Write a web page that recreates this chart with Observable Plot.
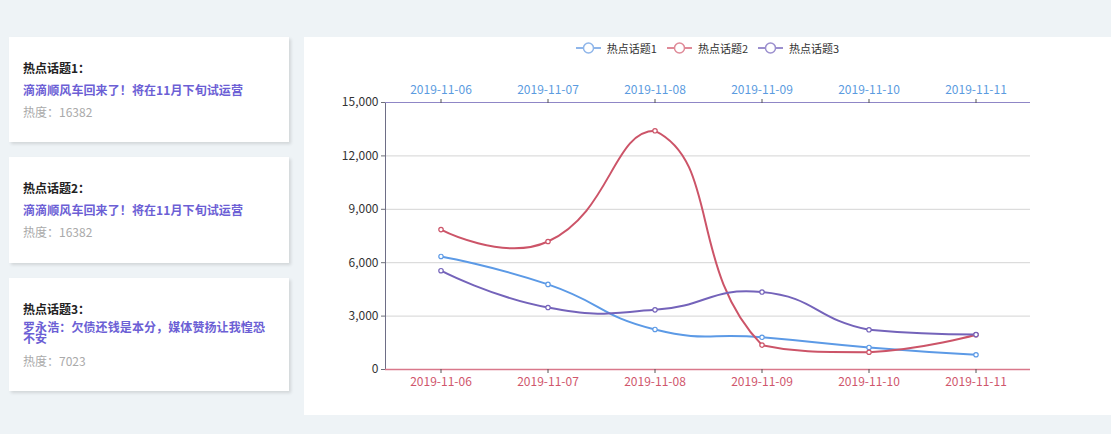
<!DOCTYPE html>
<html>
<head>
<meta charset="utf-8">
<script src="https://cdn.jsdelivr.net/npm/d3@7"></script>
<script src="https://cdn.jsdelivr.net/npm/@observablehq/plot@0.6"></script>
<style>
  html, body { margin: 0; padding: 0; }
  body { width: 1111px; height: 434px; background: #eef3f6; position: relative; overflow: hidden;
         font-family: "Noto Sans CJK SC", "Noto Sans", sans-serif; }
  .card { position: absolute; left: 9px; width: 280px; background: #fff;
          box-shadow: 2px 2px 3px rgba(0,0,0,0.12); box-sizing: border-box; padding: 0 20px 0 14px; }
  .card .t { font-size: 12px; font-weight: bold; color: #222; line-height: 14px; }
  .card .l { font-size: 12px; font-weight: bold; color: #6c5fd5; line-height: 11px; margin-top: 9px; letter-spacing: 0.1px; }
  .card .h { font-size: 12px; color: #aaa; line-height: 14px; margin-top: 10px; }
  #panel { position: absolute; left: 304px; top: 37px; width: 807px; height: 378px; background: #fff; }
  #chart { position: absolute; left: 0; top: 0; }
  #legend { position: absolute; left: 0; top: 2px; width: 807px; height: 18px; display: flex;
            justify-content: center; font-size: 11px; color: #333; }
  .li { display: flex; align-items: center; margin: 0 5px; }
  .li svg { margin-right: 6px; }
</style>
</head>
<body>
<div id="cards"></div>
<div id="panel"><div id="chart"></div><div id="legend"></div></div>
<script>
const dates = ["2019-11-06", "2019-11-07", "2019-11-08", "2019-11-09", "2019-11-10", "2019-11-11"];
const seriesNames = ["热点话题1", "热点话题2", "热点话题3"];
const topic1 = [6350, 4780, 2250, 1810, 1240, 830];
const topic2 = [7860, 7190, 13410, 1370, 970, 1950];
const topic3 = [5550, 3480, 3350, 4350, 2230, 1960];
const yTicks = [0, 3000, 6000, 9000, 12000, 15000];
const lineColors = ["#5c9ae6", "#cc5468", "#7463ba"];
const legendColors = ["#8fb6ea", "#df8a98", "#9b8fce"];

const cardTitles = ["热点话题1：", "热点话题2：", "热点话题3："];
const cardLinks = ["滴滴顺风车回来了！将在11月下旬试运营", "滴滴顺风车回来了！将在11月下旬试运营", "罗永浩：欠债还钱是本分，媒体赞扬让我惶恐不安"];
const cardHeat = [16382, 16382, 7023];
const cardTop = [37, 157, 278];
const cardHeight = [105, 106, 113];

// cards
const cards = document.getElementById("cards");
cardTitles.forEach((t, i) => {
  const c = document.createElement("div");
  c.className = "card";
  c.style.top = cardTop[i] + "px";
  c.style.height = cardHeight[i] + "px";
  c.style.paddingTop = "24px";
  c.innerHTML = `<div class="t">${t}</div><div class="l" style="${i === 2 ? 'margin-top:5px' : ''}">${cardLinks[i]}</div><div class="h" style="${i === 2 ? 'margin-top:11px' : ''}">热度：${cardHeat[i]}</div>`;
  cards.appendChild(c);
});

// legend
const legend = document.getElementById("legend");
seriesNames.forEach((s, i) => {
  const d = document.createElement("div");
  d.className = "li";
  d.innerHTML = `<svg width="25" height="14"><line x1="0" y1="7" x2="25" y2="7" stroke="${legendColors[i]}" stroke-width="2"/><circle cx="12.5" cy="7" r="5" fill="#fff" stroke="${legendColors[i]}" stroke-width="1.5"/></svg><span>${s}</span>`;
  legend.appendChild(d);
});

// ECharts-style smoothed bezier with bounding-box constraint
function smoothCurve(context) {
  let pts;
  return {
    areaStart() {}, areaEnd() {},
    lineStart() { pts = []; },
    point(x, y) { pts.push([+x, +y]); },
    lineEnd() {
      const n = pts.length;
      if (!n) return;
      const smooth = 0.5;
      const min = [Infinity, Infinity], max = [-Infinity, -Infinity];
      for (const p of pts) {
        min[0] = Math.min(min[0], p[0]); min[1] = Math.min(min[1], p[1]);
        max[0] = Math.max(max[0], p[0]); max[1] = Math.max(max[1], p[1]);
      }
      const clamp = c => [Math.min(Math.max(c[0], min[0]), max[0]), Math.min(Math.max(c[1], min[1]), max[1])];
      const cps = [];
      for (let i = 0; i < n; i++) {
        if (i === 0 || i === n - 1) { cps.push(pts[i].slice()); continue; }
        const prev = pts[i - 1], next = pts[i + 1], p = pts[i];
        const vx = (next[0] - prev[0]) * smooth, vy = (next[1] - prev[1]) * smooth;
        let d0 = Math.hypot(p[0] - prev[0], p[1] - prev[1]);
        let d1 = Math.hypot(p[0] - next[0], p[1] - next[1]);
        const s = d0 + d1;
        if (s) { d0 /= s; d1 /= s; }
        cps.push(clamp([p[0] - vx * d0, p[1] - vy * d0]));
        cps.push(clamp([p[0] + vx * d1, p[1] + vy * d1]));
      }
      context.moveTo(pts[0][0], pts[0][1]);
      for (let i = 1; i < n; i++) {
        const a = cps[2 * (i - 1)], b = cps[2 * (i - 1) + 1];
        context.bezierCurveTo(a[0], a[1], b[0], b[1], pts[i][0], pts[i][1]);
      }
    }
  };
}

const allSeries = [topic1, topic2, topic3];
const rows = allSeries.flatMap((vals, i) => vals.map((v, j) => ({date: dates[j], value: v, series: seriesNames[i]})));

const chart = Plot.plot({
  width: 807,
  height: 378,
  marginTop: 65,
  marginBottom: 46,
  marginLeft: 81,
  marginRight: 81,
  style: {fontFamily: "'Noto Sans CJK SC', sans-serif", fontSize: "12px", background: "transparent"},
  x: {type: "band", domain: dates, padding: 0, axis: null},
  y: {domain: [0, 15000], axis: null},
  color: {domain: seriesNames, range: lineColors},
  marks: [
    Plot.gridY(yTicks.filter(d => d > 0 && d < 15000), {stroke: "#d4d4d4", strokeOpacity: 1}),
    Plot.axisY(yTicks, {tickFormat: d3.format(","), tickSize: 4, tickPadding: 3, color: "#333", stroke: "#6e7079", label: null}),
    Plot.frame({anchor: "left", stroke: "#6e6e86"}),
    Plot.ruleY([15000], {stroke: "#8f86c6", strokeWidth: 1.2}),
    Plot.ruleY([0], {stroke: "#d9788b", strokeWidth: 1.5}),
    Plot.axisX({anchor: "top", tickSize: 4, tickPadding: 5, color: "#5b9be0", stroke: "#555", label: null}),
    Plot.axisX({anchor: "bottom", tickSize: 4, tickPadding: 4, color: "#d0566c", stroke: "#555", label: null}),
    Plot.line(rows, {x: "date", y: "value", z: "series", stroke: "series", curve: smoothCurve, strokeWidth: 2}),
    Plot.dot(rows, {x: "date", y: "value", stroke: "series", fill: "white", r: 2.2, strokeWidth: 1.2})
  ]
});
document.getElementById("chart").appendChild(chart);
</script>
</body>
</html>
